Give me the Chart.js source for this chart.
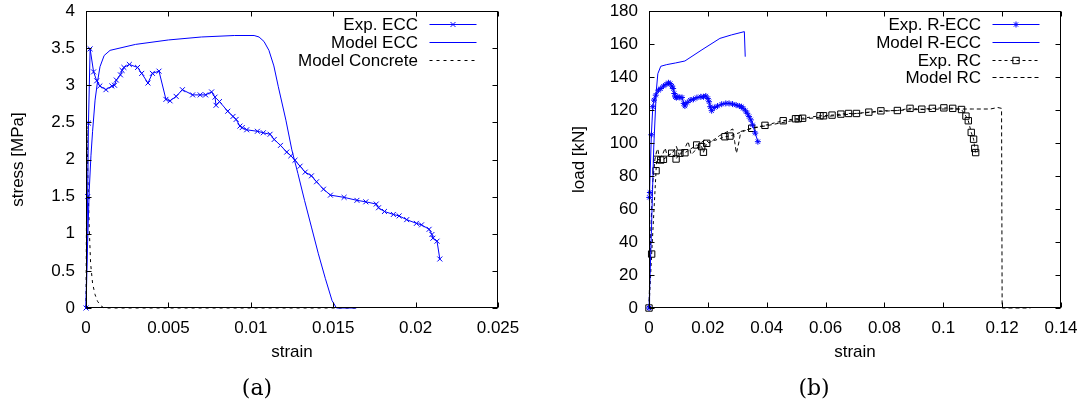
<!DOCTYPE html>
<html>
<head>
<meta charset="utf-8">
<script src="https://cdn.jsdelivr.net/npm/chart.js@4.4.1/dist/chart.umd.min.js"></script>
<style>
  body { margin: 0; background: #fff; width: 1088px; height: 408px; position: relative; overflow: hidden; }
  canvas { position: absolute; top: 0; }
  .cap { position: absolute; top: 375px; line-height: 26px; font: 22px "DejaVu Serif", serif; transform: translateX(-50%); color: #000; }
</style>
</head>
<body>
<canvas id="eccChart" width="544" height="408" style="left:0"></canvas>
<canvas id="reccChart" width="544" height="408" style="left:544px"></canvas>
<div class="cap" style="left:257px">(a)</div>
<div class="cap" style="left:814px">(b)</div>
<script>
// (a) stress-strain, ECC
const eccExpStrain = [0, 0.0001, 0.00015, 0.00025, 0.00046, 0.00065, 0.00084, 0.00121, 0.00157, 0.00173, 0.00184, 0.00209, 0.00219, 0.0023, 0.00263, 0.00313, 0.00338, 0.00376, 0.00403, 0.00443, 0.00485, 0.0051, 0.00547, 0.00585, 0.00647, 0.00693, 0.00726, 0.00762, 0.00783, 0.00789, 0.0081, 0.0086, 0.00892, 0.00911, 0.00934, 0.00948, 0.00975, 0.0104, 0.01076, 0.01117, 0.01142, 0.0118, 0.01218, 0.01243, 0.01268, 0.01299, 0.0133, 0.01368, 0.01399, 0.01441, 0.01483, 0.01566, 0.01644, 0.01698, 0.01761, 0.01775, 0.01811, 0.01865, 0.019, 0.01946, 0.02005, 0.02036, 0.02082, 0.02099, 0.02105, 0.0213, 0.02147];
const eccExpStress = [0, 1.5, 2.49, 3.49, 3.18, 3.06, 2.99, 2.94, 2.99, 3.0, 3.07, 3.14, 3.2, 3.24, 3.28, 3.24, 3.16, 3.03, 3.16, 3.19, 2.81, 2.79, 2.85, 2.94, 2.87, 2.87, 2.87, 2.91, 2.84, 2.73, 2.78, 2.65, 2.58, 2.54, 2.45, 2.43, 2.4, 2.38, 2.36, 2.34, 2.27, 2.19, 2.1, 2.05, 1.99, 1.91, 1.83, 1.78, 1.7, 1.6, 1.52, 1.49, 1.45, 1.43, 1.4, 1.35, 1.3, 1.26, 1.24, 1.19, 1.14, 1.12, 1.06, 0.99, 0.94, 0.9, 0.66];

const eccModelStrain = [0, 0.0001, 0.0002, 0.0003, 0.0004, 0.00055, 0.0007, 0.00085, 0.0011, 0.00146, 0.003, 0.005, 0.007, 0.009, 0.0102, 0.0105, 0.0108, 0.0111, 0.0114, 0.01167, 0.01213, 0.01249, 0.01286, 0.01326, 0.01368, 0.0141, 0.01452, 0.01493, 0.0152, 0.0164];
const eccModelStress = [0, 0.9, 1.6, 2.05, 2.38, 2.8, 3.05, 3.25, 3.4, 3.47, 3.55, 3.61, 3.65, 3.67, 3.67, 3.65, 3.59, 3.47, 3.26, 2.98, 2.53, 2.13, 1.81, 1.45, 1.09, 0.73, 0.4, 0.1, 0, 0];

const concModelStrain = [0, 0.00006, 0.00012, 0.0002, 0.00028, 0.0004, 0.00055, 0.0007, 0.0009, 0.0011, 0.0164];
const concModelStress = [0, 2.45, 1.7, 1.05, 0.6, 0.33, 0.18, 0.09, 0.03, 0, 0];

const eccXTicks = [0, 0.005, 0.01, 0.015, 0.02, 0.025];
const eccXLabels = ['0', '0.005', '0.01', '0.015', '0.02', '0.025'];
const eccYTicks = [0, 0.5, 1, 1.5, 2, 2.5, 3, 3.5, 4];
const eccYLabels = ['0', '0.5', '1', '1.5', '2', '2.5', '3', '3.5', '4'];

// (b) load-strain, R-ECC and RC
const reccExpStrain = [0, 0.0001, 0.0003, 0.0008, 0.0013, 0.0017, 0.0023, 0.0032, 0.004, 0.0049, 0.0058, 0.0066, 0.0072, 0.0078, 0.0082, 0.0086, 0.0089, 0.0093, 0.0098, 0.0105, 0.0112, 0.0118, 0.0122, 0.013, 0.014, 0.0151, 0.0163, 0.0176, 0.0185, 0.0193, 0.02, 0.0204, 0.0208, 0.0213, 0.0222, 0.0233, 0.0247, 0.0261, 0.0272, 0.0284, 0.0296, 0.0307, 0.0314, 0.032, 0.0328, 0.0334, 0.034, 0.0346, 0.0352, 0.0361, 0.037];
const reccExpLoad = [0, 67, 70, 105, 122, 126, 129, 132, 133, 134.5, 135.5, 136.5, 136, 134.5, 133, 130, 128, 127.5, 128, 127.6, 127.6, 124, 122.4, 124.5, 126, 126.5, 127.5, 128, 128, 128.5, 127, 125, 122, 119.6, 121.5, 122.4, 123.5, 124, 124, 123.6, 123, 122.4, 122, 121, 119.5, 118, 116, 114, 111, 106, 100.8];

const reccModelStrain = [0, 0.0008, 0.0016, 0.0025, 0.003, 0.004, 0.006, 0.009, 0.0122, 0.018, 0.0241, 0.028, 0.0324, 0.0327];
const reccModelLoad = [0, 45, 97, 132, 142, 146.5, 147.5, 148.5, 149.7, 156.5, 163.4, 165.5, 167.5, 152.3];

const rcExpStrain = [0, 0.0009, 0.0024, 0.0026, 0.004, 0.0049, 0.0077, 0.0092, 0.0105, 0.0122, 0.0162, 0.0179, 0.0185, 0.0196, 0.0258, 0.0275, 0.0349, 0.0394, 0.0456, 0.0498, 0.0507, 0.0522, 0.0581, 0.0593, 0.0622, 0.0652, 0.0678, 0.0705, 0.0747, 0.0788, 0.0844, 0.0887, 0.0927, 0.0963, 0.1002, 0.1032, 0.1062, 0.1077, 0.1085, 0.1095, 0.1103, 0.1107, 0.111];
const rcExpLoad = [0, 32.7, 83.2, 90.1, 89.7, 90.1, 93.8, 90.3, 93.8, 94.1, 98.8, 97.8, 94.4, 99.8, 103.8, 104.2, 108.9, 110.7, 113.5, 114.7, 114.7, 115, 116.5, 116.5, 116.9, 117.5, 117.9, 117.9, 118.7, 119.5, 119.7, 121, 120.5, 121, 121.3, 121, 120.3, 116.3, 113.5, 106.4, 102.3, 96.7, 94.2];

const rcModelStrain = [0, 0.0005, 0.0012, 0.002, 0.0026, 0.003, 0.0035, 0.0045, 0.0055, 0.0062, 0.008, 0.0093, 0.0103, 0.0118, 0.0133, 0.0143, 0.016, 0.0175, 0.0192, 0.0205, 0.024, 0.0285, 0.0291, 0.0297, 0.0305, 0.0312, 0.035, 0.04, 0.05, 0.06, 0.07, 0.08, 0.09, 0.1, 0.11, 0.116, 0.1185, 0.1198, 0.12, 0.1296];
const rcModelLoad = [0, 40, 75, 90, 95, 96.5, 91, 92.5, 97, 92, 94, 98, 92.5, 95.5, 101, 93, 96, 100, 102, 100, 104.5, 108.5, 101, 93.8, 100, 107, 109, 110.5, 114, 116, 117.8, 119.3, 120.2, 120.6, 120.6, 120.6, 121.5, 121, 0, 0];

const reccXTicks = [0, 0.02, 0.04, 0.06, 0.08, 0.1, 0.12, 0.14];
const reccXLabels = ['0', '0.02', '0.04', '0.06', '0.08', '0.1', '0.12', '0.14'];
const reccYTicks = [0, 20, 40, 60, 80, 100, 120, 140, 160, 180];
const reccYLabels = ['0', '20', '40', '60', '80', '100', '120', '140', '160', '180'];

const FONT = '"Liberation Sans", Arial, sans-serif';
const TICK = 5;
Chart.defaults.font.family = FONT;
Chart.defaults.font.size = 17;
Chart.defaults.color = '#000';

const pts = (xs, ys) => xs.map((x, i) => ({ x: x, y: ys[i] }));

// gnuplot style box with inward ticks on all four sides
const gnuplotFrame = {
  id: 'gnuplotFrame',
  afterDatasetsDraw(chart) {
    const { ctx, chartArea: a, scales: { x, y } } = chart;
    const L = Math.round(a.left) + 0.5, R = Math.round(a.right) - 0.5;
    const T = Math.round(a.top) + 0.5, B = Math.round(a.bottom) - 0.5;
    ctx.save();
    ctx.strokeStyle = '#000';
    ctx.lineWidth = 1;
    ctx.setLineDash([]);
    ctx.strokeRect(L, T, R - L, B - T);
    ctx.beginPath();
    x.ticks.forEach(t => {
      const px = Math.round(x.getPixelForValue(t.value)) + 0.5;
      ctx.moveTo(px, B); ctx.lineTo(px, B - TICK);
      ctx.moveTo(px, T); ctx.lineTo(px, T + TICK);
    });
    y.ticks.forEach(t => {
      const py = Math.round(y.getPixelForValue(t.value)) + 0.5;
      ctx.moveTo(L, py); ctx.lineTo(L + TICK, py);
      ctx.moveTo(R, py); ctx.lineTo(R - TICK, py);
    });
    ctx.stroke();
    ctx.restore();
  }
};

// key in the top right corner: right aligned text, sample on the right
const gnuplotKey = {
  id: 'gnuplotKey',
  afterDraw(chart) {
    const { ctx, chartArea: a } = chart;
    const sRight = a.right - 21.5, sLeft = sRight - 47, tRight = sLeft - 11.5;
    ctx.save();
    ctx.font = '17px ' + FONT;
    ctx.textAlign = 'right';
    ctx.textBaseline = 'middle';
    chart.data.datasets.forEach((ds, i) => {
      const yy = Math.round(a.top + 13 + i * 17.8) + 0.5;
      ctx.fillStyle = '#000';
      ctx.fillText(ds.label, tRight, yy + 1);
      ctx.strokeStyle = ds.borderColor;
      ctx.lineWidth = ds.borderWidth;
      ctx.setLineDash(ds.borderDash || []);
      ctx.beginPath();
      ctx.moveTo(sLeft, yy); ctx.lineTo(sRight, yy);
      ctx.stroke();
      if (ds.pointRadius) {
        ctx.setLineDash([]);
        ctx.strokeStyle = ds.pointBorderColor;
        ctx.fillStyle = ds.pointBackgroundColor;
        ctx.lineWidth = 1;
        Chart.helpers.drawPoint(ctx, { pointStyle: ds.pointStyle, radius: ds.pointRadius, borderWidth: 1, rotation: 0 }, (sLeft + sRight) / 2, yy);
      }
    });
    ctx.restore();
  }
};

function makeScales(opt) {
  return {
    x: {
      type: 'linear', min: opt.xTicks[0], max: opt.xTicks[opt.xTicks.length - 1],
      grid: { display: false, drawTicks: false }, border: { display: false },
      afterBuildTicks: s => { s.ticks = opt.xTicks.map(v => ({ value: v })); },
      afterFit: s => { s.height = 56; s.paddingLeft = 0; s.paddingRight = 0; },
      ticks: { autoSkip: false, maxRotation: 0, padding: 10, callback: (v, i) => opt.xLabels[i] },
      title: { display: true, text: 'strain', padding: { top: 0, bottom: 1 } }
    },
    y: {
      type: 'linear', min: opt.yTicks[0], max: opt.yTicks[opt.yTicks.length - 1],
      grid: { display: false, drawTicks: false }, border: { display: false },
      afterBuildTicks: s => { s.ticks = opt.yTicks.map(v => ({ value: v })); },
      afterFit: s => { s.width = opt.yWidth; s.paddingTop = 0; s.paddingBottom = 0; },
      ticks: { autoSkip: false, padding: 11, callback: (v, i) => opt.yLabels[i] },
      title: { display: true, text: opt.yTitle, padding: { top: opt.yTitlePad, bottom: 0 } }
    }
  };
}

const common = {
  responsive: false,
  animation: false,
  events: [],
  plugins: { legend: { display: false }, tooltip: { enabled: false } }
};

new Chart(document.getElementById('eccChart'), {
  type: 'scatter',
  data: {
    datasets: [
      { label: 'Exp. ECC', data: pts(eccExpStrain, eccExpStress), showLine: true, borderColor: '#0000ff', borderWidth: 1,
        pointStyle: 'crossRot', pointRadius: 3.5, pointBorderColor: '#0000ff', pointBackgroundColor: '#0000ff', pointBorderWidth: 1, clip: false },
      { label: 'Model ECC', data: pts(eccModelStrain, eccModelStress), showLine: true, borderColor: '#0000ff', borderWidth: 1,
        pointRadius: 0, clip: false },
      { label: 'Model Concrete', data: pts(concModelStrain, concModelStress), showLine: true, borderColor: '#000', borderWidth: 1,
        borderDash: [3, 4], pointRadius: 0, clip: false }
    ]
  },
  options: Object.assign({}, common, {
    layout: { padding: { left: 0, right: 46, top: 11, bottom: 44 } },
    scales: makeScales({ xTicks: eccXTicks, xLabels: eccXLabels, yTicks: eccYTicks, yLabels: eccYLabels,
      yWidth: 86, yTitle: 'stress [MPa]', yTitlePad: 8 })
  }),
  plugins: [gnuplotFrame, gnuplotKey]
});

new Chart(document.getElementById('reccChart'), {
  type: 'scatter',
  data: {
    datasets: [
      { label: 'Exp. R-ECC', data: pts(reccExpStrain, reccExpLoad), showLine: true, borderColor: '#0000ff', borderWidth: 1,
        pointStyle: 'star', pointRadius: 3, pointBorderColor: '#0000ff', pointBackgroundColor: '#0000ff', pointBorderWidth: 1, clip: false },
      { label: 'Model R-ECC', data: pts(reccModelStrain, reccModelLoad), showLine: true, borderColor: '#0000ff', borderWidth: 1,
        pointRadius: 0, clip: false },
      { label: 'Exp. RC', data: pts(rcExpStrain, rcExpLoad), showLine: true, borderColor: '#000', borderWidth: 1, borderDash: [3, 3],
        pointStyle: 'rect', pointRadius: 4.5, pointBorderColor: '#000', pointBackgroundColor: 'rgba(0,0,0,0)', pointBorderWidth: 1, clip: false },
      { label: 'Model RC', data: pts(rcModelStrain, rcModelLoad), showLine: true, borderColor: '#000', borderWidth: 1,
        borderDash: [4, 3], pointRadius: 0, clip: false }
    ]
  },
  options: Object.assign({}, common, {
    layout: { padding: { left: 0, right: 27, top: 11, bottom: 44 } },
    scales: makeScales({ xTicks: reccXTicks, xLabels: reccXLabels, yTicks: reccYTicks, yLabels: reccYLabels,
      yWidth: 105, yTitle: 'load [kN]', yTitlePad: 25 })
  }),
  plugins: [gnuplotFrame, gnuplotKey]
});
</script>
</body>
</html>
